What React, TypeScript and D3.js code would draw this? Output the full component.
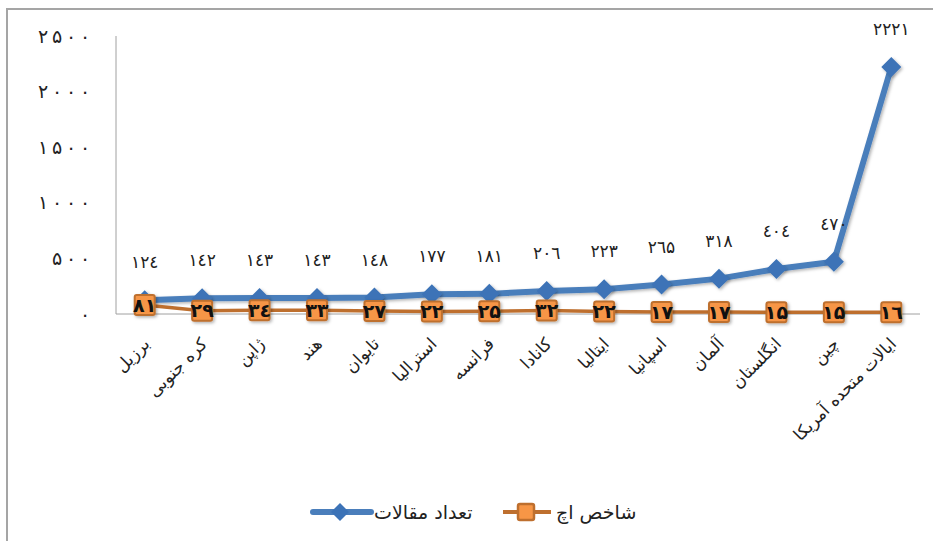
import React from 'react';
import * as d3 from 'd3';

// Countries, in plotting order (left to right)
const COUNTRIES: string[] = [
  'برزیل',
  'کره جنوبی',
  'ژاپن',
  'هند',
  'تایوان',
  'استرالیا',
  'فرانسه',
  'کانادا',
  'ایتالیا',
  'اسپانیا',
  'آلمان',
  'انگلستان',
  'چین',
  'ایالات متحده آمریکا',
];

// Series values
const ARTICLES: number[] = [124, 142, 143, 143, 148, 177, 181, 206, 223, 265, 318, 404, 470, 2221];
const H_INDEX: number[] = [81, 29, 34, 33, 27, 22, 25, 32, 22, 17, 17, 15, 15, 16];

const Y_TICKS: number[] = [0, 500, 1000, 1500, 2000, 2500];

const SERIES_NAMES = { articles: 'تعداد مقالات', hIndex: 'شاخص اچ' };

const W = 933;
const H = 541;
const FONT = '"DejaVu Sans", "Noto Sans", sans-serif';

const BLUE_LINE = '#4A7EBB';
const BLUE_MARK = '#3C73B7';
const ORANGE_LINE = '#BE6F2E';
const ORANGE_MARK = '#F79646';

// Arabic-Indic digits, with the Persian-shaped five seen in the source
const DIGITS = '٠١٢٣٤۵٦٧٨٩';
const arabicDigits = (n: number) => String(n).replace(/\d/g, (d) => DIGITS[+d]);

export default function App() {
  const x = d3.scaleBand<string>().domain(COUNTRIES).range([116, 920]);
  const y = d3.scaleLinear().domain([0, 2500]).range([314, 36]);
  const cx = (c: string) => (x(c) ?? 0) + x.bandwidth() / 2;

  const line = d3
    .line<number>()
    .x((_, i) => cx(COUNTRIES[i]))
    .y((v) => y(v));

  const diamond = (px: number, py: number, r: number) =>
    `M${px},${py - r}L${px + r},${py}L${px},${py + r}L${px - r},${py}Z`;

  return (
    <svg
      width={W}
      height={H}
      style={{ position: 'absolute', left: 0, top: 0, background: '#fff' }}
      fontFamily={FONT}
    >
      <defs>
        <filter id="shadow" x="-50%" y="-50%" width="200%" height="200%">
          <feDropShadow dx="1.5" dy="1.5" stdDeviation="1.5" floodColor="#000" floodOpacity="0.3" />
        </filter>
      </defs>

      {/* chart frame (clipped at right and bottom like the source) */}
      <rect x={7} y={9} width={960} height={600} fill="none" stroke="#A5A5A5" strokeWidth={2} />

      {/* axes */}
      <line x1={116} x2={116} y1={y(2500)} y2={y(0)} stroke="#A0A0A0" strokeWidth={1} />
      <line x1={116} x2={920} y1={y(0)} y2={y(0)} stroke="#A0A0A0" strokeWidth={1} />

      {/* y tick labels: widely spaced digits, right-aligned */}
      {Y_TICKS.map((t) => {
        const chars = arabicDigits(t).split('');
        return (
          <g key={t}>
            {chars.map((ch, j) => (
              <text
                key={j}
                x={85 - (chars.length - 1 - j) * 14}
                y={y(t)}
                dy="0.35em"
                textAnchor="middle"
                fontSize={19}
                fill="#222"
              >
                {ch}
              </text>
            ))}
          </g>
        );
      })}

      {/* category labels */}
      {COUNTRIES.map((c) => {
        const px = cx(c) + 6;
        const py = 345;
        return (
          <text
            key={c}
            x={px}
            y={py}
            textAnchor="end"
            fontSize={17}
            fill="#222"
            transform={`rotate(-45 ${px} ${py})`}
          >
            {c}
          </text>
        );
      })}

      {/* articles series */}
      <path d={line(ARTICLES) ?? ''} fill="none" stroke={BLUE_LINE} strokeWidth={6} strokeLinejoin="round" filter="url(#shadow)" />
      {ARTICLES.map((v, i) => (
        <path key={i} d={diamond(cx(COUNTRIES[i]), y(v), 10)} fill={BLUE_MARK} filter="url(#shadow)" />
      ))}

      {/* h-index series */}
      <path d={line(H_INDEX) ?? ''} fill="none" stroke={ORANGE_LINE} strokeWidth={3.5} strokeLinejoin="round" />
      {H_INDEX.map((v, i) => (
        <rect
          key={i}
          x={cx(COUNTRIES[i]) - 10}
          y={y(v) - 10}
          width={20}
          height={20}
          rx={2}
          fill={ORANGE_MARK}
          stroke={ORANGE_LINE}
          strokeWidth={2}
          filter="url(#shadow)"
        />
      ))}

      {/* data labels */}
      {ARTICLES.map((v, i) => (
        <text key={i} x={cx(COUNTRIES[i])} y={y(v) - 32} textAnchor="middle" fontSize={17} fill="#222">
          {arabicDigits(v)}
        </text>
      ))}
      {H_INDEX.map((v, i) => (
        <text
          key={i}
          x={cx(COUNTRIES[i])}
          y={y(v)}
          dy="0.35em"
          textAnchor="middle"
          fontSize={19}
          fontWeight="bold"
          fill="#111"
        >
          {arabicDigits(v)}
        </text>
      ))}

      {/* legend */}
      <g>
        <line x1={313} x2={371} y1={512} y2={512} stroke={BLUE_LINE} strokeWidth={6} strokeLinecap="round" />
        <path d={diamond(340, 512, 9)} fill={BLUE_MARK} />
        <text x={374} y={512} dy="0.35em" fontSize={19} fill="#222">
          {SERIES_NAMES.articles}
        </text>
        <line x1={503} x2={551} y1={512} y2={512} stroke={ORANGE_LINE} strokeWidth={4} />
        <rect x={518} y={504} width={16} height={16} rx={2} fill={ORANGE_MARK} stroke={ORANGE_LINE} strokeWidth={2.5} />
        <text x={556} y={512} dy="0.35em" fontSize={19} fill="#222">
          {SERIES_NAMES.hIndex}
        </text>
      </g>
    </svg>
  );
}
